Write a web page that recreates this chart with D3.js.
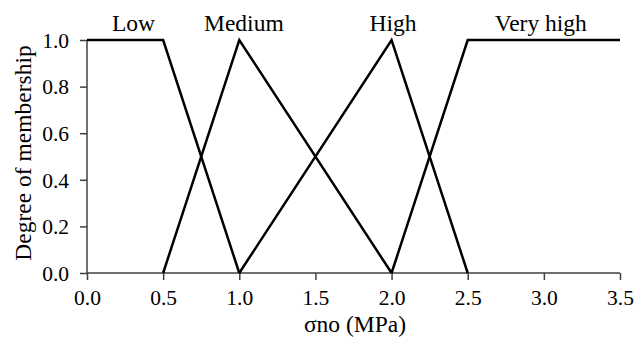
<!DOCTYPE html>
<html lang="en">
<head>
<meta charset="utf-8">
<title>Membership functions</title>
<script src="https://cdn.jsdelivr.net/npm/d3@7"></script>
<style>
body { margin: 0; background: #fff; }
.axis path, .axis line { stroke: #404040; stroke-width: 1.5; }
.mf { fill: none; stroke: #000; stroke-width: 2.5; stroke-linejoin: miter; }
</style>
</head>
<body>
<script>
// membership sets (x in MPa, y = degree)
var setNames = ["Low", "Medium", "High", "Very high"];
var lowPts = [[0, 1], [0.5, 1], [1, 0]];
var mediumPts = [[0.5, 0], [1, 1], [2, 0]];
var highPts = [[1, 0], [2, 1], [2.5, 0]];
var veryHighPts = [[2, 0], [2.5, 1], [3.5, 1]];
var labelX = [0.305, 1.03, 2.01, 2.98];
var xTicks = [0, 0.5, 1, 1.5, 2, 2.5, 3, 3.5];
var yTicks = [0, 0.2, 0.4, 0.6, 0.8, 1.0];

var W = 643, H = 344;
var m = { left: 87, right: 23, top: 40, bottom: 71 };
var serif = "Liberation Serif";

var svg = d3.select("body").append("svg")
    .attr("width", W).attr("height", H)
    .attr("font-family", serif);

var x = d3.scaleLinear().domain([0, 3.5]).range([m.left, W - m.right]);
var y = d3.scaleLinear().domain([0, 1]).range([H - m.bottom, m.top]);

var xAxis = svg.append("g").attr("class", "axis")
    .attr("transform", "translate(0," + y(0) + ")")
    .call(d3.axisBottom(x).tickValues(xTicks).tickFormat(d3.format(".1f")).tickSize(7).tickSizeOuter(7));
xAxis.attr("font-family", serif).attr("font-size", 21.5);
xAxis.selectAll("text").attr("fill", "#000").attr("y", 32).attr("dy", 0);

var yAxis = svg.append("g").attr("class", "axis")
    .attr("transform", "translate(" + x(0) + ",0)")
    .call(d3.axisLeft(y).tickValues(yTicks).tickFormat(d3.format(".1f")).tickSize(7).tickSizeOuter(0));
yAxis.attr("font-family", serif).attr("font-size", 21.5);
yAxis.selectAll("text").attr("fill", "#000").attr("x", -18).attr("dy", "0.34em");
yAxis.select(".domain").attr("d", "M0," + y(0) + "V" + y(1));
xAxis.select(".domain").attr("d", "M" + x(0) + ",0H" + x(3.5));

var line = d3.line().x(function(d) { return x(d[0]); }).y(function(d) { return y(d[1]); });

svg.selectAll("path.mf")
    .data([lowPts, mediumPts, highPts, veryHighPts])
    .enter().append("path")
    .attr("class", "mf")
    .attr("d", line);

svg.selectAll("text.setlab")
    .data(setNames)
    .enter().append("text")
    .attr("class", "setlab")
    .attr("x", function(d, i) { return x(labelX[i]); })
    .attr("y", 31)
    .attr("text-anchor", "middle")
    .attr("font-size", 23.5)
    .text(function(d) { return d; });

svg.append("text")
    .attr("x", 355)
    .attr("y", 332)
    .attr("text-anchor", "middle")
    .attr("font-size", 23.5)
    .text("σno (MPa)");

svg.append("text")
    .attr("transform", "translate(31,153) rotate(-90)")
    .attr("text-anchor", "middle")
    .attr("font-size", 23.5)
    .text("Degree of membership");
</script>
</body>
</html>
